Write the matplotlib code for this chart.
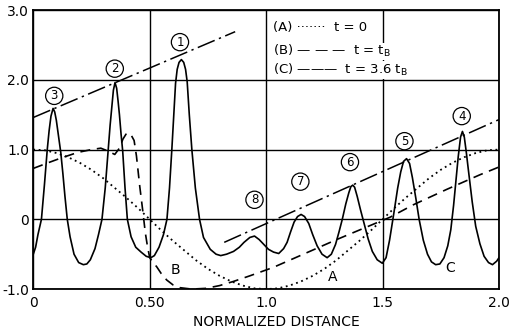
import matplotlib
matplotlib.use("Agg")
import matplotlib.pyplot as plt

# (A) t = 0, initial profile
a_x = [0.00, 0.05, 0.10, 0.15, 0.20, 0.25, 0.30, 0.35, 0.40, 0.45, 0.50,
       0.55, 0.60, 0.65, 0.70, 0.75, 0.80, 0.85, 0.90, 0.95, 1.00,
       1.05, 1.10, 1.15, 1.20, 1.25, 1.30, 1.35, 1.40, 1.45, 1.50,
       1.55, 1.60, 1.65, 1.70, 1.75, 1.80, 1.85, 1.90, 1.95, 2.00]
a_y = [1.00, 0.99, 0.95, 0.89, 0.81, 0.71, 0.59, 0.45, 0.31, 0.16, 0.00,
       -0.16, -0.31, -0.45, -0.59, -0.71, -0.81, -0.89, -0.95, -0.99, -1.00,
       -0.99, -0.95, -0.89, -0.81, -0.71, -0.59, -0.45, -0.31, -0.16, 0.00,
       0.16, 0.31, 0.45, 0.59, 0.71, 0.81, 0.89, 0.95, 0.99, 1.00]

# (B) t = tB, breakdown time
b_x = [0.000, 0.063, 0.120, 0.192, 0.250, 0.290, 0.320, 0.350, 0.370, 0.385,
       0.398, 0.408, 0.420, 0.433, 0.443, 0.457, 0.471, 0.481, 0.490, 0.500,
       0.515, 0.530, 0.550, 0.573, 0.600, 0.630, 0.680, 0.740, 0.800, 0.860,
       0.930, 1.030, 1.160, 1.303, 1.446, 1.532, 1.633, 1.776, 1.919, 2.000]
b_y = [0.73, 0.81, 0.88, 0.96, 1.00, 1.02, 0.98, 0.93, 1.02, 1.15,
       1.22, 1.24, 1.21, 1.13, 0.91, 0.48, 0.10, -0.19, -0.38, -0.55,
       -0.62, -0.68, -0.78, -0.87, -0.94, -0.98, -1.00, -0.99, -0.95, -0.89,
       -0.81, -0.69, -0.50, -0.29, -0.09, 0.03, 0.21, 0.43, 0.64, 0.75]

# (C) t = 3.6 tB, soliton train
c_x = [0.000, 0.010, 0.020, 0.035, 0.048, 0.060, 0.068, 0.076, 0.085, 0.092,
       0.099, 0.108, 0.118, 0.127, 0.136, 0.146, 0.158, 0.175, 0.195, 0.215,
       0.230, 0.245, 0.265, 0.280, 0.295, 0.309, 0.322, 0.330, 0.337, 0.344,
       0.351, 0.358, 0.364, 0.370, 0.377, 0.384, 0.394, 0.404, 0.420, 0.440,
       0.463, 0.485, 0.505, 0.520, 0.540, 0.559, 0.574, 0.585, 0.595, 0.604,
       0.611, 0.618, 0.626, 0.636, 0.646, 0.654, 0.661, 0.670, 0.681, 0.696,
       0.714, 0.731, 0.760, 0.785, 0.805, 0.830, 0.860, 0.885, 0.905, 0.930,
       0.950, 0.970, 0.990, 1.010, 1.032, 1.054, 1.075, 1.090, 1.105, 1.120,
       1.135, 1.150, 1.165, 1.183, 1.200, 1.219, 1.240, 1.262, 1.280, 1.298,
       1.313, 1.327, 1.342, 1.355, 1.364, 1.372, 1.380, 1.391, 1.405, 1.420,
       1.438, 1.456, 1.477, 1.499, 1.515, 1.530, 1.549, 1.565, 1.578, 1.590,
       1.603, 1.616, 1.628, 1.643, 1.657, 1.675, 1.693, 1.710, 1.728, 1.746,
       1.764, 1.780, 1.793, 1.805, 1.815, 1.825, 1.835, 1.843, 1.851, 1.860,
       1.867, 1.885, 1.900, 1.918, 1.936, 1.955, 1.972, 1.990, 2.000]
c_y = [-0.50, -0.40, -0.22, 0.00, 0.50, 1.00, 1.27, 1.48, 1.59, 1.54,
       1.42, 1.20, 0.96, 0.66, 0.33, 0.00, -0.25, -0.50, -0.62, -0.65,
       -0.64, -0.58, -0.42, -0.22, 0.00, 0.45, 1.00, 1.35, 1.60, 1.85,
       1.96, 1.88, 1.70, 1.50, 1.22, 0.98, 0.45, 0.00, -0.25, -0.40,
       -0.47, -0.53, -0.55, -0.52, -0.40, -0.22, 0.00, 0.45, 1.00, 1.55,
       1.95, 2.15, 2.25, 2.29, 2.25, 2.15, 1.97, 1.50, 1.00, 0.45,
       0.00, -0.26, -0.43, -0.50, -0.52, -0.50, -0.46, -0.40, -0.33, -0.26,
       -0.24, -0.29, -0.36, -0.43, -0.47, -0.49, -0.42, -0.33, -0.18, -0.04,
       0.04, 0.07, 0.04, -0.06, -0.22, -0.38, -0.50, -0.55, -0.50, -0.36,
       -0.18, 0.00, 0.22, 0.38, 0.47, 0.49, 0.46, 0.33, 0.14, -0.05,
       -0.28, -0.46, -0.58, -0.63, -0.55, -0.30, 0.10, 0.45, 0.68, 0.83,
       0.87, 0.80, 0.60, 0.30, 0.00, -0.30, -0.50, -0.61, -0.65, -0.64,
       -0.55, -0.38, -0.15, 0.20, 0.55, 0.90, 1.18, 1.26, 1.18, 0.95,
       0.75, 0.25, -0.10, -0.35, -0.53, -0.62, -0.65, -0.60, -0.55]

# envelope lines through the soliton peaks
env1_x = [0.0, 0.867]
env1_y = [1.46, 2.69]
env2_x = [0.82, 2.0]
env2_y = [-0.33, 1.43]

# circled soliton numbers
peak_ids = ["1", "2", "3", "4", "5", "6", "7", "8"]
peak_lx = [0.630, 0.350, 0.090, 1.840, 1.594, 1.360, 1.147, 0.950]
peak_ly = [2.54, 2.16, 1.77, 1.48, 1.12, 0.82, 0.54, 0.28]

curve_ids = ["A", "B", "C"]
curve_lx = [1.285, 0.610, 1.788]
curve_ly = [-0.82, -0.73, -0.70]

xticks = [0, 0.5, 1.0, 1.5, 2.0]
xtick_labels = ["0", "0.50", "1.0", "1.5", "2.0"]
yticks = [-1.0, 0, 1.0, 2.0, 3.0]
ytick_labels = ["-1.0", "0", "1.0", "2.0", "3.0"]

fig = plt.figure(figsize=(5.12, 3.30), dpi=100)
ax = fig.add_axes([0.065, 0.124, 0.9096, 0.8455])

ax.plot(a_x, a_y, color="black", lw=1.3, linestyle=(0, (1, 2)))
ax.plot(b_x, b_y, color="black", lw=1.2, linestyle=(0, (6, 4)))
ax.plot(c_x, c_y, color="black", lw=1.2)
ax.plot(env1_x, env1_y, color="black", lw=1.1, linestyle=(0, (12, 3, 1.5, 3)))
ax.plot(env2_x, env2_y, color="black", lw=1.1, linestyle=(0, (12, 3, 1.5, 3)))

for lab, x, y in zip(peak_ids, peak_lx, peak_ly):
    ax.text(x, y, lab, ha="center", va="center", fontsize=8.5,
            bbox=dict(boxstyle="circle,pad=0.18", fc="white", ec="black", lw=0.9))
for lab, x, y in zip(curve_ids, curve_lx, curve_ly):
    ax.text(x, y, lab, ha="center", va="center", fontsize=10)

legend_rows = ["(A) \u00b7\u00b7\u00b7\u00b7\u00b7\u00b7\u00b7  t = 0",
               "(B) \u2014 \u2014 \u2014  t = t$_\\mathrm{B}$",
               "(C) \u2014\u2014\u2014  t = 3.6 t$_\\mathrm{B}$"]
legend_y = [2.75, 2.41, 2.14]
for row, y in zip(legend_rows, legend_y):
    ax.text(1.03, y, row, ha="left", va="center", fontsize=9.5,
            bbox=dict(fc="white", ec="none", pad=0.5), zorder=5)

ax.set_xlim(0, 2.0)
ax.set_ylim(-1.0, 3.0)
ax.set_xticks(xticks, labels=xtick_labels)
ax.set_yticks(yticks, labels=ytick_labels)
ax.tick_params(length=0, labelsize=10, pad=3)
ax.tick_params(axis="x", pad=5)
ax.grid(True, color="black", lw=1.0)
ax.set_axisbelow(True)
for s in ax.spines.values():
    s.set_linewidth(1.3)
ax.set_xlabel("NORMALIZED DISTANCE", fontsize=10)
ax.xaxis.set_label_coords(0.521, -0.093)

fig.savefig("out.png", dpi=100)
